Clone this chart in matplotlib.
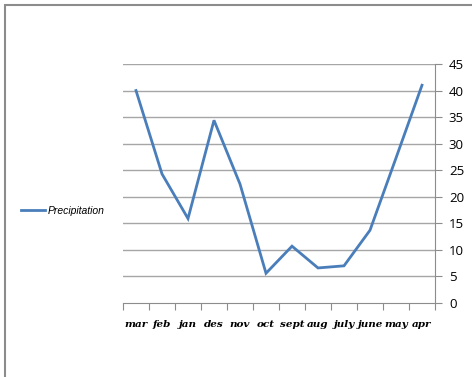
import numpy as np
import matplotlib.pyplot as plt
from matplotlib.patches import Rectangle

months = ['mar', 'feb', 'jan', 'des', 'nov', 'oct', 'sept', 'aug', 'july', 'june', 'may', 'apr']
precip = [40.0, 24.3, 15.9, 34.4, 22.4, 5.6, 10.7, 6.6, 7.0, 13.7, 27.3, 41.0]
yticks = [0, 5, 10, 15, 20, 25, 30, 35, 40, 45]

fig = plt.figure(figsize=(4.72, 3.77), dpi=100)

# outer chart frame
fig.patches.append(Rectangle((5 / 472, -0.1), 1.2, (377 - 5) / 377 + 0.1,
                             transform=fig.transFigure, fill=False,
                             edgecolor='#8c8c8c', linewidth=1.5))

ax = fig.add_axes([123 / 472, (377 - 303) / 377, 312 / 472, 239 / 377])
x = np.arange(len(months)) + 0.5
line, = ax.plot(x, precip, color='#4a7ebb', linewidth=2.0, solid_joinstyle='miter')

ax.set_xlim(0, len(months))
ax.set_ylim(0, 45)
ax.yaxis.tick_right()
ax.set_yticks(yticks)
ax.set_yticklabels([str(v) for v in yticks], fontsize=9.5, family='Open Sans')
ax.tick_params(axis='y', length=5, color='#8c8c8c', pad=5)
for v in yticks[1:]:
    ax.axhline(v, color='#a6a6a6', linewidth=1.0, zorder=0)

ax.set_xticks(np.arange(len(months) + 1))
ax.set_xticklabels([])
ax.set_xticks(x, minor=True)
ax.set_xticklabels(months, minor=True, fontsize=7.5, family='DejaVu Serif',
                   style='italic', fontweight='bold')
ax.tick_params(axis='x', which='major', length=5, color='#8c8c8c')
ax.tick_params(axis='x', which='minor', length=0, pad=12)

for s in ['top', 'left']:
    ax.spines[s].set_visible(False)
for s in ['right', 'bottom']:
    ax.spines[s].set_color('#8c8c8c')

fig.legend([line], ['Precipitation'], loc='center left', bbox_to_anchor=(12 / 472, (377 - 211) / 377),
           frameon=False, handlelength=2.3, handletextpad=0.2,
           prop={'family': 'Liberation Sans', 'style': 'italic', 'size': 7.5})

fig.savefig('out.png', dpi=100)
